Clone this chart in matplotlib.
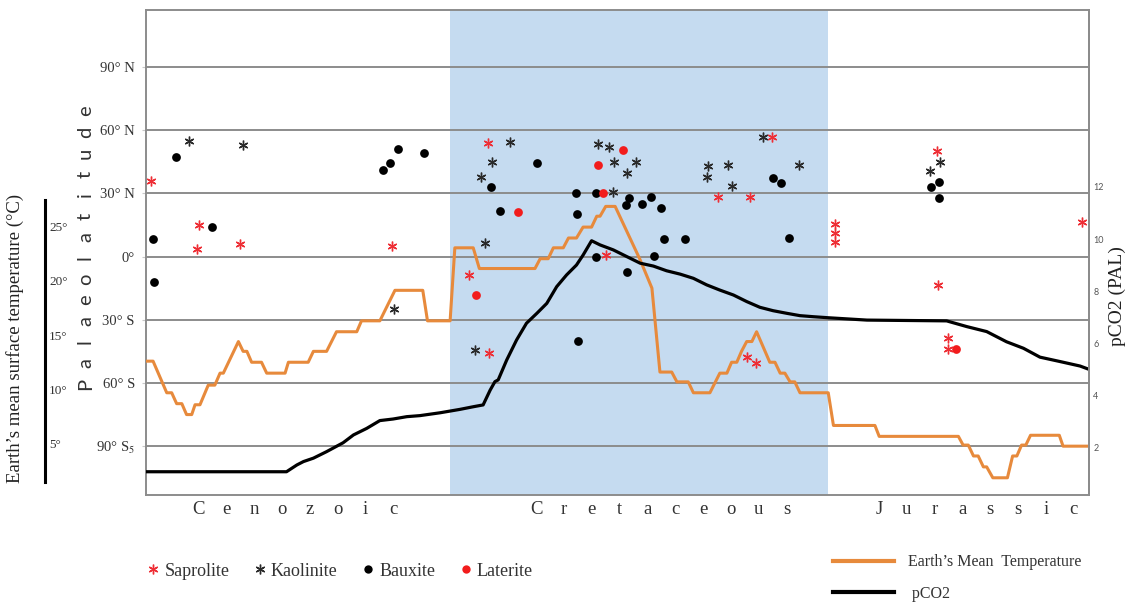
import matplotlib
matplotlib.use('Agg')
import matplotlib.pyplot as plt
from matplotlib.lines import Line2D
import matplotlib.transforms as mtransforms

plt.rcParams['font.family'] = ['Liberation Serif', 'DejaVu Serif']
plt.rcParams['mathtext.fontset'] = 'stix'

# ---------------- data ----------------
# age axis (Ma, 0 = present on the left)
period_names = ['Cenozoic', 'Cretaceous', 'Jurassic']
period_label_centers = [31.8, 109.3, 176.1]
cretaceous_span = [64.5, 144.6]

lat_ticks = [90, 60, 30, 0, -30, -60, -90]
lat_labels = ['90° N', '60° N', '30° N', '0°', '30° S', '60° S', '90° S$_{\\mathrm{5}}$']
temp_ticks = [25, 20, 15, 10, 5]
temp_labels = ['25°', '20°', '15°', '10°', '5°']
co2_ticks = [2, 4, 6, 8, 10, 12]

temp_age = [0, 1.5, 4.4, 5.45, 6.5, 7.6, 8.6, 9.7, 10.4, 11.45,
            13.2, 14.6, 15.7, 16.4, 19.6, 20.6, 21.4, 22.4, 24.5, 25.6,
            29.5, 30.2, 34.4, 35.5, 38.3, 40.4, 44.7, 45.7, 49.6, 52.8,
            58.7, 59.7, 64.5, 65.5, 69.4, 70.7, 82.5, 83.6, 85.3, 86.4,
            88.5, 89.6, 91.3, 92.7, 94.5, 95.6, 96.3, 97.5, 99.5, 104.8,
            107.3, 109.0, 111.5, 112.6, 115.0, 116.1, 119.6, 121.0, 121.7, 123.2,
            124.2, 125.3, 126.3, 127.4, 128.5, 129.5, 132.3, 133.4, 134.5, 135.5,
            136.6, 137.6, 138.7, 144.7, 145.8, 154.6, 155.5, 172.3, 173.3, 174.4,
            175.5, 176.5, 177.6, 178.3, 179.6, 182.7, 183.8, 184.7, 185.7, 186.6,
            187.6, 193.7, 194.5, 199.9]
temp_val = [12.6, 12.6, 9.7, 9.7, 8.7, 8.7, 7.7, 7.7, 8.6, 8.6,
            10.4, 10.4, 11.5, 11.5, 14.4, 13.5, 13.5, 12.5, 12.5, 11.5,
            11.5, 12.5, 12.5, 13.5, 13.5, 15.3, 15.3, 16.3, 16.3, 19.1,
            19.1, 16.3, 16.3, 23.0, 23.0, 21.1, 21.1, 22.0, 22.0, 23.0,
            23.0, 23.9, 23.9, 24.9, 24.9, 25.9, 25.9, 26.8, 26.8, 21.9,
            19.3, 11.6, 11.6, 10.7, 10.7, 9.7, 9.7, 10.9, 11.5, 11.5,
            12.5, 12.5, 13.5, 14.4, 14.4, 15.3, 12.5, 12.5, 11.5, 11.5,
            10.7, 10.7, 9.7, 9.7, 6.7, 6.7, 5.7, 5.7, 4.9, 4.9,
            3.9, 3.9, 2.9, 2.9, 1.9, 1.9, 3.9, 3.9, 4.9, 4.9,
            5.8, 5.8, 4.8, 4.8]

co2_age = [0, 29.8, 32.0, 33.4, 35.5, 38.3, 41.8, 44.0, 46.8, 49.6,
           52.4, 55.3, 58.1, 62.4, 66.6, 69.4, 71.5, 73.0, 74.0, 74.7,
           76.5, 78.6, 80.7, 82.9, 85.0, 87.1, 89.2, 91.3, 92.7, 94.5,
           96.3, 99.1, 102.0, 104.8, 107.6, 110.4, 113.3, 116.1, 118.9, 121.7,
           124.6, 127.4, 130.2, 133.0, 135.9, 138.7, 141.5, 144.7, 152.9, 169.8,
           174.1, 178.3, 182.5, 186.1, 189.6, 193.9, 198.1, 199.9]
co2_val = [1.09, 1.09, 1.35, 1.48, 1.61, 1.86, 2.20, 2.50, 2.75, 3.05,
           3.11, 3.20, 3.24, 3.35, 3.48, 3.58, 3.65, 4.22, 4.54, 4.61,
           5.37, 6.14, 6.78, 7.16, 7.54, 8.18, 8.63, 9.01, 9.39, 9.94,
           9.78, 9.59, 9.33, 9.08, 8.97, 8.79, 8.66, 8.50, 8.25, 8.05,
           7.86, 7.61, 7.39, 7.26, 7.16, 7.07, 7.03, 6.99, 6.90, 6.87,
           6.65, 6.46, 6.07, 5.82, 5.48, 5.31, 5.14, 5.02]

sap_age = [1.1, 11.2, 10.9, 19.9, 52.2, 72.6, 68.4, 97.6, 72.8, 127.5, 129.4,
           121.4, 128.0, 132.8, 146.1, 146.1, 146.1, 167.7, 168.0, 170.2, 170.2, 198.6]
sap_lat = [35.9, 15.0, 3.7, 5.8, 4.8, 54.0, -8.6, 0.6, -45.7, -47.6, -50.4,
           28.1, 28.1, 56.9, 15.3, 11.0, 6.7, 50.1, -13.4, -38.8, -43.9, 16.2]

kao_age = [9.2, 20.6, 52.7, 77.2, 73.4, 71.1, 71.8, 95.9, 98.2, 99.3, 103.9,
           102.0, 99.1, 69.8, 119.1, 118.9, 123.4, 124.3, 130.9, 138.5, 168.4, 166.3]
kao_lat = [54.8, 52.8, -24.9, 54.4, 44.7, 37.9, 6.6, 53.3, 52.0, 44.7, 45.0,
           39.8, 30.8, -44.4, 43.0, 37.9, 43.5, 33.6, 56.9, 43.5, 45.0, 40.7]

bau_age = [6.3, 50.3, 51.8, 53.4, 58.9, 1.4, 13.9, 1.6, 73.2, 83.0, 91.2,
           95.4, 102.4, 101.7, 105.1, 107.0, 109.2, 75.1, 91.4, 109.9, 114.4,
           136.4, 95.4, 107.7, 102.0, 91.7, 132.9, 134.7, 168.1, 166.5, 168.2]
bau_lat = [47.1, 41.1, 44.5, 50.9, 49.0, 8.2, 14.0, -12.3, 32.9, 44.3, 30.3,
           30.3, 27.9, 24.3, 24.8, 28.4, 22.9, 21.6, 20.3, 8.2, 8.3,
           8.6, -0.2, 0.4, -7.2, -40.1, 37.1, 35.0, 35.4, 33.1, 27.6]

lat_age = [101.1, 95.9, 97.0, 78.9, 70.0, 171.8]
lat_lat = [50.7, 43.5, 30.0, 21.0, -18.3, -44.1]

# ---------------- styles ----------------
ORANGE = '#E78A3C'
BLUE = '#C5DBF0'
RED_AST = '#EE2E35'
RED_DOT = '#F21C1C'
GRAY = '#8C8C8C'
TXT = '#333333'
AST = (6, 2, 0)

W, H = 1125, 603
fig = plt.figure(figsize=(W / 100, H / 100), dpi=100)
ax = fig.add_axes([146 / W, 108 / H, 943 / W, 485 / H])
ax.set_xlim(0, 200)
ax.set_ylim(-113.25, 117.05)

ax.axvspan(*cretaceous_span, color=BLUE, zorder=0, lw=0)
ax.set_axisbelow(True)
ax.set_yticks(lat_ticks)
ax.set_yticklabels(lat_labels)
ax.grid(axis='y', color=GRAY, lw=1.4)
ax.set_xticks([])
ax.tick_params(axis='y', length=3, color='#C8C8C8', pad=5, labelsize=10.5, labelcolor=TXT)
for s in ax.spines.values():
    s.set_color(GRAY)
    s.set_linewidth(1.4)

kw = dict(ls='none', zorder=3)
ax.plot(sap_age, sap_lat, marker=AST, ms=7, mew=1.0, color=RED_AST, **kw)
ax.plot(kao_age, kao_lat, marker=AST, ms=7, mew=1.0, color='#2A2A2A', **kw)
ax.plot(bau_age, bau_lat, marker='o', ms=6.3, color='black', mew=0, **kw)
ax.plot(lat_age, lat_lat, marker='o', ms=6.3, color=RED_DOT, mew=0, **kw)

# temperature axis
ax_t = ax.twinx()
ax_t.set_ylim(0.32, 44.82)
ax_t.plot(temp_age, temp_val, color=ORANGE, lw=2.2, zorder=2)
for k in ['left', 'top', 'bottom']:
    ax_t.spines[k].set_visible(False)
ax_t.spines['right'].set_position(('axes', (45 - 146) / 943))
ax_t.spines['right'].set_bounds(1.5, 27.4)
ax_t.spines['right'].set_color('black')
ax_t.spines['right'].set_linewidth(2.2)
ax_t.set_yticks(temp_ticks)
ax_t.set_yticklabels(temp_labels)
ax_t.tick_params(axis='y', length=0, pad=3, labelsize=9.5, labelcolor=TXT)

# pCO2 axis
ax_p = ax.twinx()
ax_p.set_ylim(0.199, 18.78)
ax_p.plot(co2_age, co2_val, color='black', lw=2.3, zorder=2)
for k in ['left', 'top', 'bottom']:
    ax_p.spines[k].set_visible(False)
ax_p.spines['right'].set_color(GRAY)
ax_p.spines['right'].set_linewidth(1.4)
ax_p.set_yticks(co2_ticks)
ax_p.tick_params(axis='y', length=0, pad=3, labelsize=6.5, labelcolor='#555555')
for t in ax_p.get_yticklabels():
    t.set_fontfamily(['Lato', 'DejaVu Sans'])

# period labels, letter spaced
trans = mtransforms.blended_transform_factory(ax.transData, ax.transAxes)
pitch = 5.9
for name, c in zip(period_names, period_label_centers):
    n = len(name)
    for i, ch in enumerate(name):
        ax.text(c + (i - (n - 1) / 2) * pitch, -0.04, ch, transform=trans,
                ha='center', va='baseline', fontsize=13.5, color=TXT)

# y labels
fig.text(15 / W, 1 - 338 / H, 'Earth\u2019s mean surface temperature (°C)', rotation=90,
         ha='center', va='center', fontsize=13.5, color='#222222')
word = 'Palaeolatitude'
for i, ch in enumerate(word):
    y = 384 - i * 21.0
    fig.text(91 / W, 1 - y / H, ch, rotation=90, rotation_mode='anchor',
             ha='center', va='baseline', fontsize=14.5, color=TXT,
             family=['Lato', 'DejaVu Sans'])
fig.text(1117 / W, 1 - 296 / H, 'pCO2 (PAL)', rotation=90, ha='center', va='center',
         fontsize=14, color='#222222')

# legends
h1 = [Line2D([], [], ls='none', marker=AST, ms=7, mew=1.0, color=RED_AST),
      Line2D([], [], ls='none', marker=AST, ms=7, mew=1.0, color='#2A2A2A'),
      Line2D([], [], ls='none', marker='o', ms=6, mew=0, color='black'),
      Line2D([], [], ls='none', marker='o', ms=6, mew=0, color=RED_DOT)]
leg1 = fig.legend(h1, ['Saprolite', 'Kaolinite', 'Bauxite', 'Laterite'], ncol=4,
                  loc='center left', bbox_to_anchor=(148 / W, 1 - 571 / H),
                  frameon=False, fontsize=13, handlelength=0.6, handletextpad=0.3,
                  columnspacing=1.4, borderaxespad=0, borderpad=0)
for t in leg1.get_texts():
    t.set_color(TXT)
h2 = [Line2D([], [], color=ORANGE, lw=3), Line2D([], [], color='black', lw=3)]
leg2 = fig.legend(h2, ['Earth\u2019s Mean  Temperature', ' pCO2'], ncol=1,
                  loc='center left', bbox_to_anchor=(833 / W, 1 - 578 / H),
                  frameon=False, fontsize=11.5, handlelength=3.8, handletextpad=0.9,
                  labelspacing=0.95, borderaxespad=0, borderpad=0)
for t in leg2.get_texts():
    t.set_color(TXT)

fig.savefig('out.png', dpi=100)
